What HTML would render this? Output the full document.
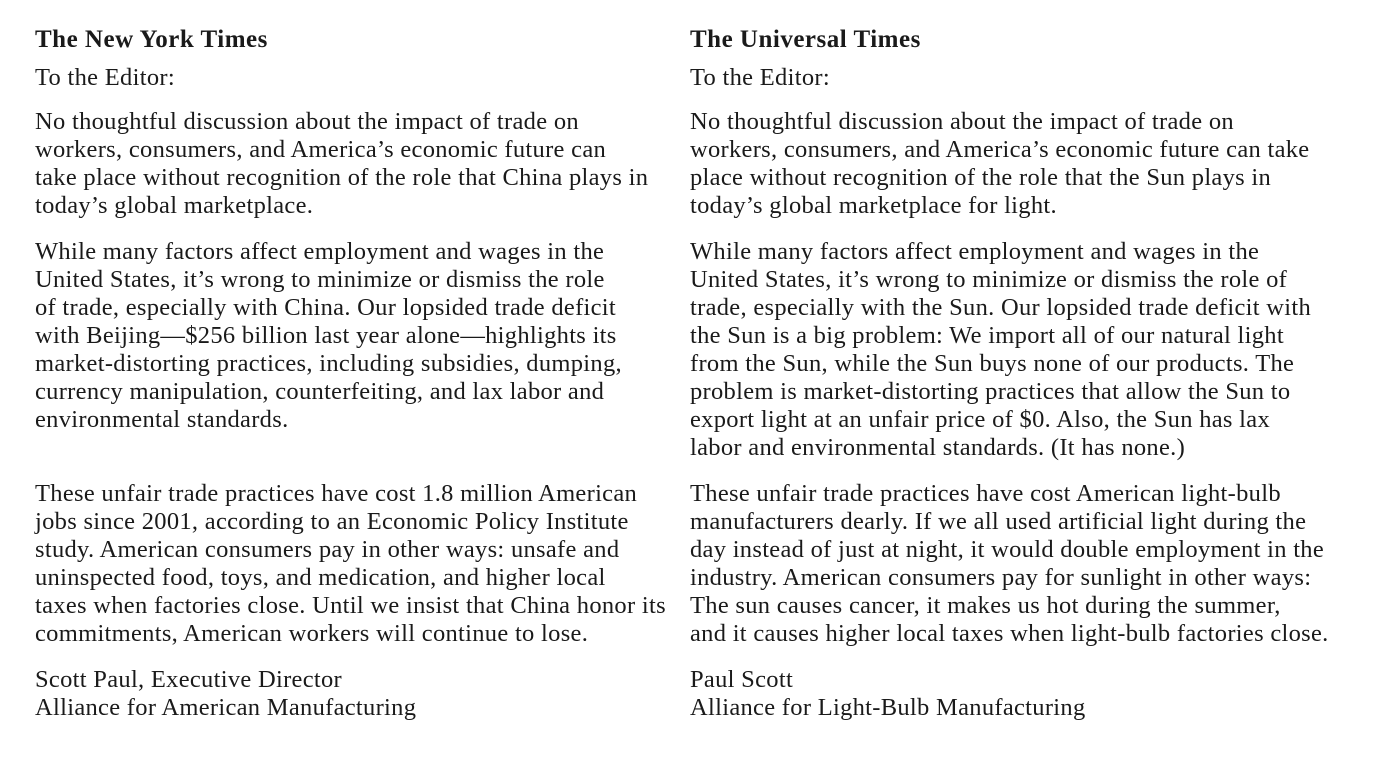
<!DOCTYPE html>
<html><head><meta charset="utf-8"><style>
body{margin:0;width:1375px;height:758px;background:#fff;overflow:hidden;position:relative;font-family:"Liberation Serif",serif;color:#1a1a1a}
.col{position:absolute;top:1px;width:680px}
.l{position:absolute;white-space:nowrap;font-size:24.5px;letter-spacing:0.3px;line-height:28px;left:0}
.h{position:absolute;white-space:nowrap;font-size:25px;font-weight:bold;left:0;top:25px;line-height:28px;letter-spacing:0.5px}
</style></head><body>
<div class="col" style="left:35px">
<div class="h">The New York Times</div>
<div class="l" style="top:63px">To the Editor:</div>
<div class="l" style="top:107px">No thoughtful discussion about the impact of trade on</div>
<div class="l" style="top:135px">workers, consumers, and America’s economic future can</div>
<div class="l" style="top:163px">take place without recognition of the role that China plays in</div>
<div class="l" style="top:191px">today’s global marketplace.</div>
<div class="l" style="top:237px">While many factors affect employment and wages in the</div>
<div class="l" style="top:265px">United States, it’s wrong to minimize or dismiss the role</div>
<div class="l" style="top:293px">of trade, especially with China. Our lopsided trade deficit</div>
<div class="l" style="top:321px">with Beijing—$256 billion last year alone—highlights its</div>
<div class="l" style="top:349px">market-distorting practices, including subsidies, dumping,</div>
<div class="l" style="top:377px">currency manipulation, counterfeiting, and lax labor and</div>
<div class="l" style="top:405px">environmental standards.</div>
<div class="l" style="top:479px">These unfair trade practices have cost 1.8 million American</div>
<div class="l" style="top:507px">jobs since 2001, according to an Economic Policy Institute</div>
<div class="l" style="top:535px">study. American consumers pay in other ways: unsafe and</div>
<div class="l" style="top:563px">uninspected food, toys, and medication, and higher local</div>
<div class="l" style="top:591px">taxes when factories close. Until we insist that China honor its</div>
<div class="l" style="top:619px">commitments, American workers will continue to lose.</div>
<div class="l" style="top:665px">Scott Paul, Executive Director</div>
<div class="l" style="top:693px">Alliance for American Manufacturing</div>
</div>
<div class="col" style="left:690px">
<div class="h">The Universal Times</div>
<div class="l" style="top:63px">To the Editor:</div>
<div class="l" style="top:107px">No thoughtful discussion about the impact of trade on</div>
<div class="l" style="top:135px">workers, consumers, and America’s economic future can take</div>
<div class="l" style="top:163px">place without recognition of the role that the Sun plays in</div>
<div class="l" style="top:191px">today’s global marketplace for light.</div>
<div class="l" style="top:237px">While many factors affect employment and wages in the</div>
<div class="l" style="top:265px">United States, it’s wrong to minimize or dismiss the role of</div>
<div class="l" style="top:293px">trade, especially with the Sun. Our lopsided trade deficit with</div>
<div class="l" style="top:321px">the Sun is a big problem: We import all of our natural light</div>
<div class="l" style="top:349px">from the Sun, while the Sun buys none of our products. The</div>
<div class="l" style="top:377px">problem is market-distorting practices that allow the Sun to</div>
<div class="l" style="top:405px">export light at an unfair price of $0. Also, the Sun has lax</div>
<div class="l" style="top:433px">labor and environmental standards. (It has none.)</div>
<div class="l" style="top:479px">These unfair trade practices have cost American light-bulb</div>
<div class="l" style="top:507px">manufacturers dearly. If we all used artificial light during the</div>
<div class="l" style="top:535px">day instead of just at night, it would double employment in the</div>
<div class="l" style="top:563px">industry. American consumers pay for sunlight in other ways:</div>
<div class="l" style="top:591px">The sun causes cancer, it makes us hot during the summer,</div>
<div class="l" style="top:619px">and it causes higher local taxes when light-bulb factories close.</div>
<div class="l" style="top:665px">Paul Scott</div>
<div class="l" style="top:693px">Alliance for Light-Bulb Manufacturing</div>
</div>
</body></html>
